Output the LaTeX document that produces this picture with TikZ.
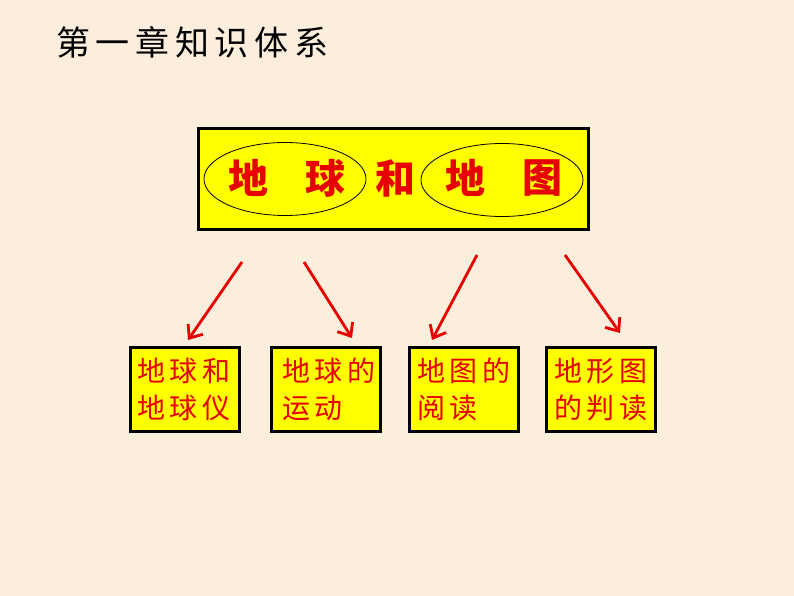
\documentclass[tikz,border=0pt]{standalone}
\usepackage{fontspec}
\newfontfamily\cjk{Noto Sans CJK SC}
\usetikzlibrary{arrows.meta,shapes.geometric}
\definecolor{bg}{RGB}{252,238,220}
\definecolor{ylw}{RGB}{255,255,0}
\definecolor{rd}{RGB}{230,0,0}
\begin{document}
\begin{tikzpicture}[x=1pt,y=-1pt,
  subbox/.style={draw=black,line width=3pt,fill=ylw,minimum width=109pt,minimum height=84pt,inner sep=0pt},
  subtext/.style={anchor=north west,text=rd,font=\cjk\fontsize{28}{37}\selectfont,align=left,inner sep=0pt},
  arr/.style={draw=rd,line width=2.8pt,-{Straight Barb[length=11pt,width=18pt]}},
  oval/.style={draw=black,line width=0.8pt,ellipse,minimum width=162pt,minimum height=73pt,inner sep=0pt},
  bigchar/.style={text=rd,font=\cjk\bfseries\fontsize{40}{40}\selectfont,inner sep=0pt}]
\useasboundingbox (0,0) rectangle (794,596);
\fill[bg] (0,0) rectangle (794,596);
\node[anchor=west,inner sep=0pt,font=\cjk\fontsize{34}{34}\selectfont] (title) at (56,42) {第\,一\,章\,知\,识\,体\,系};
\node[draw=black,line width=3pt,fill=ylw,minimum width=390pt,minimum height=101pt,inner sep=0pt] (main) at (393.5,179) {};
\node[oval] (o1) at (285,179) {};
\node[oval] (o2) at (502,180) {};
\node[bigchar] (c1) at (248,178) {地};
\node[bigchar] (c2) at (325,178) {球};
\node[bigchar] (c3) at (395,178) {和};
\node[bigchar] (c4) at (465,178) {地};
\node[bigchar] (c5) at (542,178) {图};
\node[subbox] (b1) at (184.5,389.5) {};
\node[subbox] (b2) at (326,389.5) {};
\node[subbox] (b3) at (463.5,389.5) {};
\node[subbox] (b4) at (601,389.5) {};
\node[subtext] (t1) at (137,358) {地\,球\,和\\地\,球\,仪};
\node[subtext] (t2) at (282,358) {地\,球\,的\\运\,动};
\node[subtext] (t3) at (417,358) {地\,图\,的\\阅\,读};
\node[subtext] (t4) at (554,358) {地\,形\,图\\的\,判\,读};
\coordinate (s1) at (242,262);
\coordinate (e1) at (188,340);
\coordinate (s2) at (304,262);
\coordinate (e2) at (352,338);
\coordinate (s3) at (477,255);
\coordinate (e3) at (432,340);
\coordinate (s4) at (565,255);
\coordinate (e4) at (620,333);
\draw[arr] (s1) -- (e1);
\draw[arr] (s2) -- (e2);
\draw[arr] (s3) -- (e3);
\draw[arr] (s4) -- (e4);
\end{tikzpicture}
\end{document}
